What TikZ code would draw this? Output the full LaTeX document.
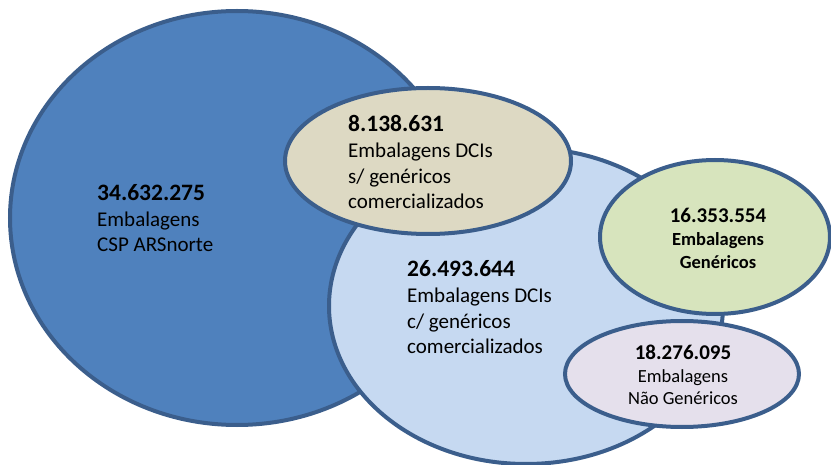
\documentclass[tikz,border=0pt]{standalone}
\usepackage{fontspec}
\setmainfont{Carlito}
\usetikzlibrary{shapes.geometric}
\definecolor{rim}{HTML}{3B5E8C}
\definecolor{cspblue}{HTML}{4F81BD}
\definecolor{dciblue}{HTML}{C6D9F1}
\definecolor{dcibeige}{HTML}{DDD9C3}
\definecolor{gengreen}{HTML}{D7E4BD}
\definecolor{naogen}{HTML}{E5E0EC}
\newcommand{\bignum}[1]{{\fontsize{23.5}{26}\selectfont\bfseries #1}}
\newcommand{\smallnum}[1]{{\fontsize{21}{23}\selectfont\bfseries #1}}

\begin{document}
\begin{tikzpicture}[x=1pt,y=-1pt,
  blob/.style={ellipse,draw=rim,line width=4pt,inner sep=0pt,outer sep=0pt},
  bigtxt/.style={font=\fontsize{21}{25.8}\selectfont,align=left,anchor=base west,inner sep=0pt},
  smalltxt/.style={font=\fontsize{18.5}{23}\selectfont,align=center,anchor=base,inner sep=0pt}]
  \useasboundingbox (0,0) rectangle (831,465);
  \node[blob,fill=cspblue,minimum width=454pt,minimum height=414pt] (csp) at (237,218) {};
  \node[blob,fill=dciblue,minimum width=394pt,minimum height=316pt] (com) at (526,306) {};
  \node[blob,fill=dcibeige,minimum width=286pt,minimum height=146pt] (sem) at (428,161) {};
  \node[blob,fill=gengreen,minimum width=230pt,minimum height=154pt] (gen) at (715,237) {};
  \node[blob,fill=naogen,minimum width=234pt,minimum height=106pt] (nao) at (682,374) {};

  \node[bigtxt] (csptxt) at (97,252) {\bignum{34.632.275}\\Embalagens\\CSP ARSnorte};
  \node[bigtxt] (semtxt) at (348,209) {\bignum{8.138.631}\\Embalagens DCIs\\s/ genéricos\\comercializados};
  \node[bigtxt] (comtxt) at (407,354) {\bignum{26.493.644}\\Embalagens DCIs\\c/ genéricos\\comercializados};
  \node[smalltxt] (gentxt) at (718,269) {\smallnum{16.353.554}\\\textbf{Embalagens}\\\textbf{Genéricos}};
  \node[smalltxt] (naotxt) at (683,405) {\smallnum{18.276.095}\\Embalagens\\Não Genéricos};
\end{tikzpicture}
\end{document}
